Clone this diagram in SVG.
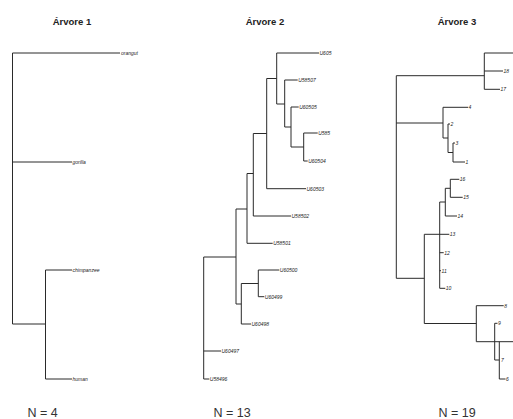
<svg xmlns="http://www.w3.org/2000/svg" width="513" height="419" viewBox="0 0 513 419">
<style>
.br{fill:none;stroke:#2a2a2a;stroke-width:1}
.t{font-family:"Liberation Sans",Arial,sans-serif;font-weight:bold;font-size:9.5px;fill:#222;text-anchor:middle}
.n{font-family:"Liberation Sans",Arial,sans-serif;font-size:12.5px;fill:#333;text-anchor:middle}
.l{font-family:"Liberation Sans",Arial,sans-serif;font-size:5px;font-style:italic;fill:#222}
</style>
<rect width="513" height="419" fill="#fff"/>
<g id="titles">
<text class="t" x="72" y="25">Árvore 1</text>
<text class="t" x="265" y="25">Árvore 2</text>
<text class="t" x="457" y="25">Árvore 3</text>
<text class="n" x="42.5" y="417">N = 4</text>
<text class="n" x="232" y="417">N = 13</text>
<text class="n" x="457" y="417">N = 19</text>
</g>
<g id="connectors">
<path class="br" d="M12.5,53V324M12.5,53H120M12.5,162H72M12.5,324H45.5M45.5,270V379M45.5,270H72M45.5,379H72"/>
<path class="br" d="M203.7,257V379M203.7,257H236M203.7,351H221M203.7,379H209.3
M236,209V304M236,209H247M236,304H241.3
M247,173.5V243.3M247,173.5H253.3M247,243.3H272.7
M253.3,133.5V216M253.3,133.5H266.7M253.3,216H291
M266.7,78.5V188.7M266.7,78.5H276.7M266.7,188.7H306
M276.7,53V104M276.7,53H319M276.7,104H284.7
M284.7,80V127M284.7,80H297.7M284.7,127H291
M291,107V147M291,107H298.7M291,147H303.7
M303.7,133V161M303.7,133H317.7M303.7,161H307.7
M241.3,283.5V324M241.3,283.5H258.3M241.3,324H251
M258.3,270V296.7M258.3,270H279.3M258.3,296.7H264.3"/>
<path class="br" d="M396.3,75.7V278.3M396.3,75.7H484.3
M484.3,53V89.3M484.3,53H515M484.3,71H503M484.3,89.3H500
M396.3,123H443M443,107.3V138M443,107.3H468M443,138H448
M448,124V152.5M448,124H450M448,152.5H453
M453,143V162M453,143H455M453,162H465
M396.3,278.3H424.3M424.3,234.3V323.5M424.3,234.3H449.3
M439.7,202V288.3M439.7,202H445.3M445.3,188.3V216M445.3,188.3H450.3M445.3,216H457
M450.3,179.3V197.3M450.3,179.3H459.3M450.3,197.3H462.7
M439.7,252.7H443.7M439.7,270.7H441M439.7,288.3H445.3
M424.3,323.5H476.3M476.3,305.7V341.7M476.3,305.7H503.7M476.3,341.7H515
M494.7,323.3V360M494.7,323.3H497.5M494.7,360H499.3
M499.3,341.7V379M499.3,379H505.5"/>
</g>
<g id="tree1-leaves">
<text class="l" x="121" y="55">orangut</text>
<text class="l" x="72.5" y="164">gorilla</text>
<text class="l" x="72.5" y="272">chimpanzee</text>
<text class="l" x="72.5" y="381">human</text>
</g>
<g id="tree2-leaves">
<text class="l" x="319.5" y="55">U605</text>
<text class="l" x="298.2" y="82">U58507</text>
<text class="l" x="299.2" y="109">U60505</text>
<text class="l" x="318.2" y="135">U585</text>
<text class="l" x="308.2" y="163">U60504</text>
<text class="l" x="306.5" y="190.7">U60503</text>
<text class="l" x="291.5" y="218">U58502</text>
<text class="l" x="273.2" y="245.3">U58501</text>
<text class="l" x="279.8" y="272">U60500</text>
<text class="l" x="264.8" y="298.7">U60499</text>
<text class="l" x="251.5" y="326">U60498</text>
<text class="l" x="221.5" y="353">U60497</text>
<text class="l" x="209.8" y="381">U58496</text>
</g>
<g id="tree3-leaves">
<text class="l" x="503.5" y="73">18</text>
<text class="l" x="500.5" y="91.3">17</text>
<text class="l" x="468.5" y="109.3">4</text>
<text class="l" x="450.5" y="126">2</text>
<text class="l" x="455.5" y="145">3</text>
<text class="l" x="465.5" y="164">1</text>
<text class="l" x="459.8" y="181.3">16</text>
<text class="l" x="463.2" y="199.3">15</text>
<text class="l" x="457.5" y="218">14</text>
<text class="l" x="449.8" y="236.3">13</text>
<text class="l" x="444.2" y="254.7">12</text>
<text class="l" x="441.5" y="272.7">11</text>
<text class="l" x="445.8" y="290.3">10</text>
<text class="l" x="504.2" y="307.7">8</text>
<text class="l" x="498" y="325.3">9</text>
<text class="l" x="501" y="362">7</text>
<text class="l" x="506" y="381">6</text>
</g>
</svg>
